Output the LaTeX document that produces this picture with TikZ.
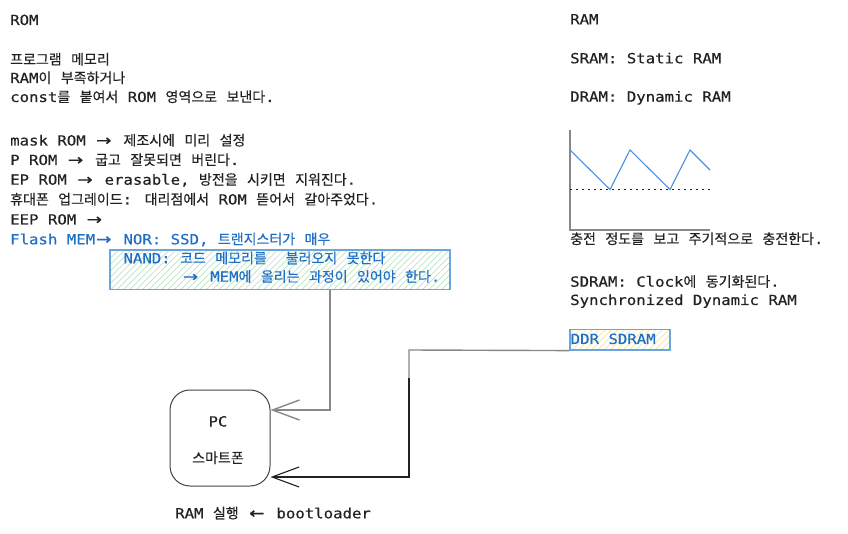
\documentclass[tikz,border=0pt]{standalone}
\usepackage{graphicx}
\usepackage{fontspec}
\setmainfont[FakeStretch=1.12,FakeBold=0.35]{DejaVu Sans Mono}
\newfontfamily\latf[FakeStretch=1.12,FakeBold=0.35]{DejaVu Sans Mono}
\newfontfamily\krf[FakeBold=0.25]{Noto Sans CJK KR}
\newfontfamily\arrf[FakeBold=0.6]{DejaVu Sans}
\usetikzlibrary{arrows.meta,patterns.meta}
\XeTeXinterchartokenstate=1
\newXeTeXintercharclass\krcls
\newcount\kcnt
\kcnt="AC00
\loop\ifnum\kcnt<"D7A4 \XeTeXcharclass\kcnt=\krcls \advance\kcnt by 1 \repeat
\XeTeXinterchartoks 0 \krcls = {\krf}
\XeTeXinterchartoks 4095 \krcls = {\krf}
\XeTeXinterchartoks \krcls 0 = {\latf}
\XeTeXinterchartoks \krcls 4095 = {\latf}
\newcommand\RA{\makebox[18.9pt][l]{\hspace{1pt}\scalebox{1.22}[1]{\arrf\fontsize{15}{17}\selectfont →}}}
\newcommand\LA{\makebox[18.9pt][l]{\hspace{1pt}\scalebox{1.22}[1]{\arrf\fontsize{15}{17}\selectfont ←}}}
\definecolor{tblack}{RGB}{34,34,34}
\definecolor{tblue}{RGB}{31,111,197}
\definecolor{bblue}{RGB}{106,165,221}
\definecolor{hgreen}{RGB}{185,230,195}
\definecolor{hyellow}{RGB}{245,228,165}
\definecolor{cgray}{RGB}{136,136,136}
\definecolor{zblue}{RGB}{74,144,226}
\definecolor{pcgray}{RGB}{68,68,68}
\tikzset{
  txt/.style={anchor=base west, inner sep=0pt, font=\fontsize{14}{17}\selectfont, text=tblack},
  ctxt/.style={txt, anchor=base},
  btxt/.style={txt, text=tblue},
  hatchbox/.style={draw=bblue, line width=1.2pt, inner sep=0pt},
  conn/.style={draw=cgray, line width=1.4pt},
  arr/.style={-{Straight Barb[length=27pt,width=20pt]}},
}
\begin{document}
\begin{tikzpicture}[x=1pt,y=-1pt]
\fill[white] (0,0) rectangle (848,534);
\useasboundingbox (0,0) rectangle (848,534);
% left column
\node[txt] (rom) at (10,25) {ROM};
\node[txt] (l1) at (10,64.5) {프로그램 메모리};
\node[txt] (l2) at (10,83) {RAM이 부족하거나};
\node[txt] (l3) at (10,102) {const를 붙여서 ROM 영역으로 보낸다.};
\node[txt] (m1) at (10,145.5) {mask ROM \RA{} 제조시에 미리 설정};
\node[txt] (m2) at (10,165) {P ROM \RA{} 굽고 잘못되면 버린다.};
\node[txt] (m3) at (10,184.7) {EP ROM \RA{} erasable, 방전을 시키면 지워진다.};
\node[txt] (m4) at (10,204.5) {휴대폰 업그레이드: 대리점에서 ROM 뜯어서 갈아주었다.};
\node[txt] (m5) at (10,224.5) {EEP ROM \RA};
\node[btxt] (m6) at (10,244.3) {Flash MEM\RA{} NOR: SSD, 트랜지스터가 매우};
% NAND box
\node[hatchbox, pattern={Lines[angle=45,distance=4.5pt,line width=0.7pt]}, pattern color=hgreen,
      minimum width=340pt, minimum height=39.5pt] (nandbox) at (280,269.75) {};
\node[btxt] (nand1) at (123.3,263.3) {NAND: 코드 메모리를\ \ 불러오지 못한다};
\node[btxt] (nand2) at (181.7,281.7) {\RA{} MEM에 올리는 과정이 있어야 한다.};
% PC box
\node[draw=pcgray, line width=1pt, rounded corners=20pt, minimum width=100pt, minimum height=96pt] (pc) at (220,438) {};
\node[ctxt] (pct) at (218,426.5) {PC};
\node[ctxt] (phone) at (218,463) {스마트폰};
\node[txt] (boot) at (175,518.3) {RAM 실행 \LA{} bootloader};
% right column
\node[txt] (ram) at (570,24.3) {RAM};
\node[txt] (sram) at (570,63.3) {SRAM: Static RAM};
\node[txt] (dram) at (570,101.7) {DRAM: Dynamic RAM};
% chart
\draw[cgray, line width=2pt] (570,130) -- (570,230) -- (710,230);
\draw[tblack, line width=1.5pt, dash pattern=on 1.5pt off 4.5pt] (570,189.5) -- (710,189.5);
\draw[zblue, line width=1.1pt] (570,150) -- (610,189.5) -- (630,150) -- (670,189.5) -- (690,150) -- (710,170);
\node[txt] (chg) at (570,244) {충전 정도를 보고 주기적으로 충전한다.};
\node[txt] (sd1) at (570,286.7) {SDRAM: Clock에 동기화된다.};
\node[txt] (sd2) at (570,305) {Synchronized Dynamic RAM};
% DDR box
\node[hatchbox, pattern={Lines[angle=45,distance=4.5pt,line width=0.7pt]}, pattern color=hyellow,
      minimum width=100pt, minimum height=20.5pt] (ddr) at (620,339.75) {};
\node[btxt] (ddrt) at (570.5,344) {DDR SDRAM};
% connectors
\draw[conn, arr] ([xshift=50pt]nandbox.south) |- ([yshift=28pt]pc.east);
\coordinate (bend) at (409,350);
\draw[conn] (ddr.south west) -- (bend) -- ++(0,30);
\draw[conn, draw=tblack, line width=1.1pt, arr] (409,378) |- ([yshift=-39pt]pc.east);
\end{tikzpicture}
\end{document}
